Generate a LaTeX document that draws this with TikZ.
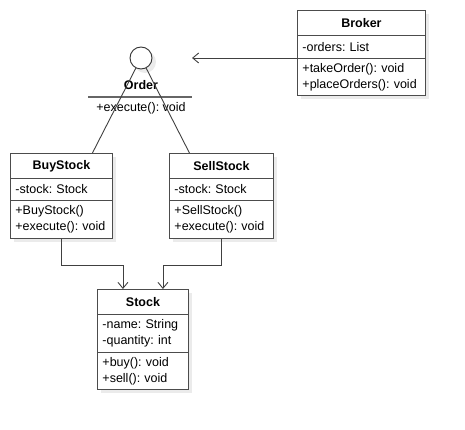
\documentclass[tikz,border=0pt]{standalone}
\usepackage{fontspec}
\setmainfont{Liberation Sans}
\usetikzlibrary{arrows.meta,shadows}
\frenchspacing

\begin{document}
\begin{tikzpicture}[x=1pt,y=-1pt,
  umlbox/.style={draw=black!70, line width=0.9pt, fill=white, anchor=north west, inner xsep=5pt, inner ysep=0pt, align=left, font=\fontsize{12.5}{16}\selectfont, drop shadow={shadow xshift=4pt, shadow yshift=-4pt, fill=black!8, opacity=1}},
  umltitle/.style={umlbox, align=center, font=\fontsize{12.5}{16}\selectfont\bfseries},
  link/.style={draw=black!75, line width=0.9pt},
  dep/.style={link, -{Straight Barb[length=6pt, width=10pt]}}]
\useasboundingbox (0,0) rectangle (465,430); % page

% Broker
\node[umltitle, text width=118pt, minimum height=25pt] (brokerT) at (297,10) {Broker};
\node[umlbox, text width=118pt, minimum height=23pt] (brokerA) at (297,35) {-orders: List};
\node[umlbox, text width=118pt, minimum height=37pt] (brokerM) at (297,58) {+takeOrder(): void\\+placeOrders(): void};

% Order interface
\node[circle, draw=black!80, line width=0.9pt, fill=white, minimum size=22pt, inner sep=0pt, drop shadow={shadow xshift=4pt, shadow yshift=-4pt, fill=black!8, opacity=1}] (orderc) at (141,58) {};
\node[font=\fontsize{12.5}{16}\selectfont\bfseries] (ordert) at (141,85) {Order};
\draw[black!60, line width=1.2pt] (88,97) -- (192,97); % separator
\node[font=\fontsize{12.5}{16}\selectfont] (orderm) at (141,108) {+execute(): void};
\coordinate (orderend) at (192,58);

% BuyStock
\node[umltitle, text width=92pt, minimum height=25pt] (buyT) at (10,153) {BuyStock};
\node[umlbox, text width=92pt, minimum height=22pt] (buyA) at (10,178) {-stock: Stock};
\node[umlbox, text width=92pt, minimum height=38pt] (buyM) at (10,200) {+BuyStock()\\+execute(): void};

% SellStock
\node[umltitle, text width=94pt, minimum height=25pt] (sellT) at (169,153) {SellStock};
\node[umlbox, text width=94pt, minimum height=22pt] (sellA) at (169,178) {-stock: Stock};
\node[umlbox, text width=94pt, minimum height=38pt] (sellM) at (169,200) {+SellStock()\\+execute(): void};

% Stock
\node[umltitle, text width=81pt, minimum height=25pt] (stockT) at (97,289) {Stock};
\node[umlbox, text width=81pt, minimum height=38pt] (stockA) at (97,314) {-name: String\\-quantity: int};
\node[umlbox, text width=81pt, minimum height=37pt] (stockM) at (97,352) {+buy(): void\\+sell(): void};

\draw[link] (orderc) -- ([xshift=31pt]buyT.north); % realizes
\draw[link] (orderc) -- ([xshift=-32pt]sellT.north); % realizes
\draw[dep] (brokerM.north west) -- (orderend); % uses
\draw[dep] (buyM.south) -- ++(0,27) -| ([xshift=-20pt]stockT.north); % uses
\draw[dep] (sellM.south) -- ++(0,27) -| ([xshift=20pt]stockT.north); % uses
\end{tikzpicture}
\end{document}
